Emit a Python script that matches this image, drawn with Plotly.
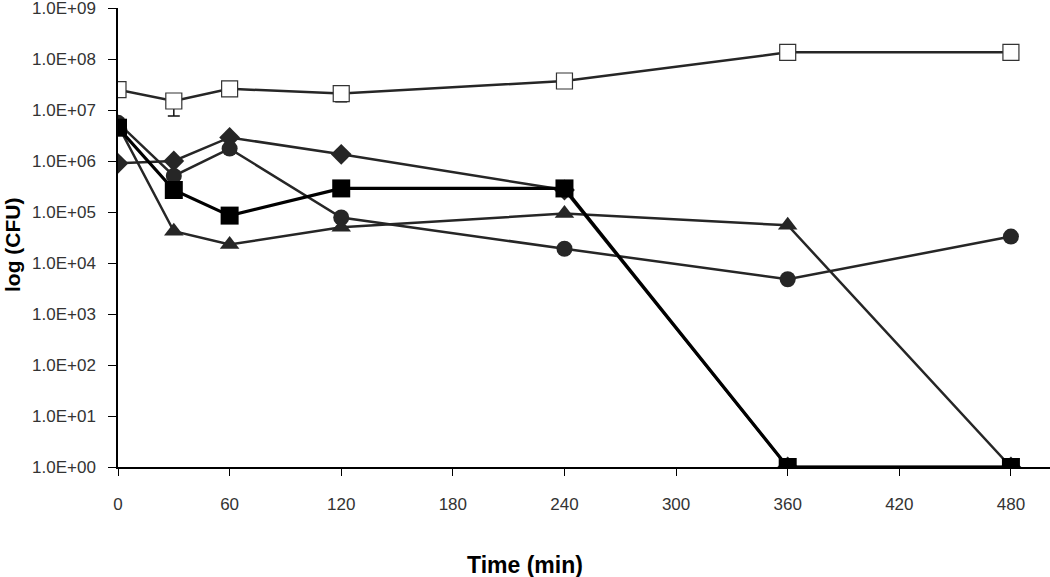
import plotly.graph_objects as go

time = [0, 30, 60, 120, 240, 360, 480]
open_sq = [2.5e7, 1.5e7, 2.6e7, 2.1e7, 3.7e7, 1.35e8, 1.35e8]
open_sq_err_minus = [0, 7.4e6, 0, 6.5e6, 0, 0, 0]
diamond = [9.0e5, 1.0e6, 2.9e6, 1.35e6, 2.7e5, 1, 1]
circle = [5.6e6, 5.1e5, 1.75e6, 7.8e4, 1.9e4, 4.8e3, 3.3e4]
triangle = [5.0e6, 4.2e4, 2.3e4, 5.0e4, 9.3e4, 5.5e4, 1]
filled_sq = [4.5e6, 2.7e5, 8.5e4, 2.9e5, 2.9e5, 1, 1]

x_ticks = [0, 60, 120, 180, 240, 300, 360, 420, 480]
y_tickvals = [1e0, 1e1, 1e2, 1e3, 1e4, 1e5, 1e6, 1e7, 1e8, 1e9]
y_ticktext = ["1.0E+00", "1.0E+01", "1.0E+02", "1.0E+03", "1.0E+04",
              "1.0E+05", "1.0E+06", "1.0E+07", "1.0E+08", "1.0E+09"]

W, H = 1050, 577
L, R, T, B = 118, 0, 8, 110
PW, PH = W - L - R, H - T - B

LC = "#262626"
fig = go.Figure()
fig.add_trace(go.Scatter(
    x=time, y=open_sq, mode="lines+markers",
    line=dict(color=LC, width=2.5),
    marker=dict(symbol="square", size=16, color="white", line=dict(color="#333333", width=1.2)),
    error_y=dict(type="data", symmetric=False, array=[0]*len(time), arrayminus=open_sq_err_minus,
                 color="#111111", thickness=1.5, width=6),
))
fig.add_trace(go.Scatter(
    x=time, y=diamond, mode="lines+markers",
    line=dict(color=LC, width=2.5),
    marker=dict(symbol="diamond", size=16, color=LC),
))
fig.add_trace(go.Scatter(
    x=time, y=circle, mode="lines+markers",
    line=dict(color=LC, width=2.5),
    marker=dict(symbol="circle", size=16, color=LC),
))
fig.add_trace(go.Scatter(
    x=time, y=triangle, mode="lines+markers",
    line=dict(color=LC, width=2.5),
    marker=dict(symbol="triangle-up", size=17, color=LC),
))
fig.add_trace(go.Scatter(
    x=time, y=filled_sq, mode="lines+markers",
    line=dict(color="black", width=3.2),
    marker=dict(symbol="square", size=18, color="black"),
))

fig.update_layout(
    width=W, height=H,
    paper_bgcolor="white", plot_bgcolor="white",
    showlegend=False,
    margin=dict(l=L, r=R, t=T, b=B, pad=0),
    font=dict(family="Liberation Sans, Arial, sans-serif", color="#222222"),
    annotations=[
        dict(text="<b>Time (min)</b>", xref="paper", yref="paper",
             x=(525 - L) / PW, y=(PH + T - 565) / PH, xanchor="center", yanchor="middle",
             showarrow=False, font=dict(size=23, color="black")),
        dict(text="<b>log (CFU)</b>", xref="paper", yref="paper",
             x=(13 - L) / PW, y=(PH + T - 245) / PH, xanchor="center", yanchor="middle",
             textangle=-90, showarrow=False, font=dict(size=21, color="black")),
    ],
)
fig.update_xaxes(
    range=[0, 501], tickvals=x_ticks, ticktext=[str(v) for v in x_ticks],
    showgrid=False, zeroline=False, showline=True, linecolor="black", linewidth=1.5,
    ticks="outside", ticklen=7, tickcolor="black", tickwidth=1, automargin=False,
    tickfont=dict(size=17, color="#333333"), ticklabelstandoff=14,
)
fig.update_yaxes(
    type="log", range=[0, 9], tickvals=y_tickvals, ticktext=y_ticktext,
    showgrid=False, zeroline=False, showline=True, linecolor="black", linewidth=1.5,
    ticks="outside", ticklen=8, tickcolor="black", tickwidth=1, automargin=False,
    tickfont=dict(size=17, color="#333333"), ticklabelstandoff=9,
    ticklabeloverflow="allow",
)

fig.write_html(
    "out.html",
    config={"displayModeBar": False},
    post_script="document.body.style.margin='0';document.body.style.overflow='hidden';",
)
